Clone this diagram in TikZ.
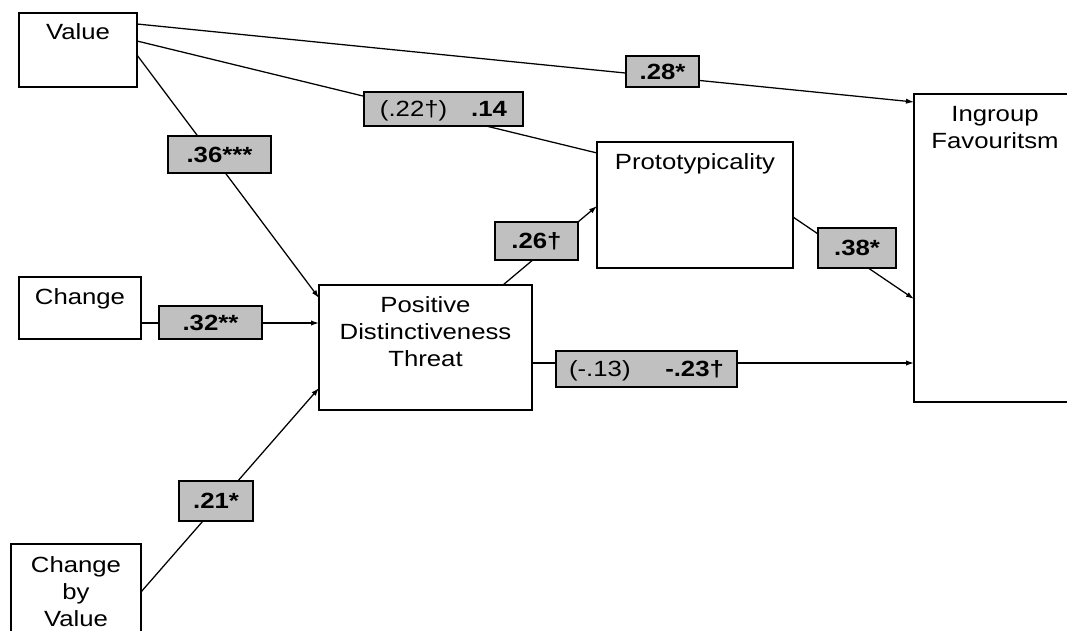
\documentclass[tikz,border=0pt]{standalone}
\usepackage{fontspec}
\setmainfont{Liberation Sans}[FakeStretch=1.17]
\usetikzlibrary{arrows.meta,calc}
\definecolor{coefgray}{RGB}{192,192,192}
% centred multi-line text whose baseline is that of its first line
\newcommand{\linesof}[1]{\begin{tabular}[t]{@{}c@{}}#1\end{tabular}}
\begin{document}
\begin{tikzpicture}[x=0.75pt,y=-0.75pt,
  w/.style={minimum width=#1*0.75pt},
  h/.style={minimum height=#1*0.75pt},
  txt/.style={font=\fontsize{16.5pt}{20.25pt}\selectfont, inner sep=0pt, anchor=base},
  box/.style={draw=black, line width=1pt, fill=white, anchor=north west,
    inner sep=0pt, outer sep=0pt},
  coef/.style={draw=black, line width=1pt, fill=coefgray, anchor=north west,
    inner sep=0pt, outer sep=0pt, text height=11.8pt, text depth=0pt,
    font=\fontsize{16.5pt}{20.25pt}\selectfont},
  link/.style={draw=black, line width=0.95pt},
  arr/.style={link, -{Latex[length=6pt,width=4pt]}}]

\useasboundingbox (0,0) rectangle (1067,631);
\fill[white] (0,0) rectangle (1067,631);
\clip (0,0) rectangle (1067,631);

% variables
\node[box, w=118, h=74] (value) at (19,13) {};
\node[txt] (valuet) at ($(value.north)+(0,27)$) {Value};

\node[box, w=122, h=62] (change) at (19,277) {};
\node[txt] (changet) at ($(change.north)+(0,27)$) {Change};

\node[box, w=130, h=110] (cbv) at (11,544) {};
\node[txt] (cbvt) at ($(cbv.north)+(0,28)$) {\linesof{Change\\by\\Value}};

\node[box, w=213, h=125] (pdt) at (319,285) {};
\node[txt] (pdtt) at ($(pdt.north)+(0,27)$) {\linesof{Positive\\Distinctiveness\\Threat}};

\node[box, w=196, h=126] (proto) at (597,142) {};
\node[txt] (protot) at ($(proto.north)+(0,28)$) {Prototypicality};

\node[box, w=170, h=308] (ingroup) at (914,94) {};
\node[txt] (ingroupt) at ($(ingroup.north west)+(81,28)$) {\linesof{Ingroup\\Favouritsm}};

% paths
\draw[arr]  ($(value.north east)+(0,11)$)  -- ($(ingroup.north west)+(0,8)$);
\draw[link] ($(value.north east)+(0,28)$)  -- ($(proto.north west)+(0,11)$);
\draw[arr]  ($(value.north east)+(0,42)$)  -- ($(pdt.north west)+(0,13)$);
\draw[arr]  ($(change.north east)+(0,46)$) -- ($(pdt.north west)+(0,38)$);
\draw[arr]  ($(cbv.north east)+(0,48)$)    -- ($(pdt.north west)+(0,103)$);
\draw[arr]  ($(pdt.north west)+(184,0)$)   -- ($(proto.north west)+(0,64)$);
\draw[arr]  ($(proto.north east)+(0,75)$)  -- ($(ingroup.north west)+(0,205)$);
\draw[arr]  ($(pdt.north east)+(0,78)$)    -- ($(ingroup.north west)+(0,269)$);

% path coefficients
\node[coef, w=73,  h=31] (c28) at (626,56)  {\textbf{.28*}};
\node[coef, w=159, h=34] (c14) at (364,92)  {(.22†)\hspace{18pt}\textbf{.14}};
\node[coef, w=103, h=37] (c36) at (168,136) {\textbf{.36***}};
\node[coef, w=83,  h=38] (c26) at (495,222) {\textbf{.26†}};
\node[coef, w=78,  h=40] (c38) at (818,228) {\textbf{.38*}};
\node[coef, w=103, h=33] (c32) at (159,306) {\textbf{.32**}};
\node[coef, w=181, h=36] (c13) at (556,351) {(-.13)\hspace{26pt}\textbf{-.23†}};
\node[coef, w=74,  h=40] (c21) at (179,481) {\textbf{.21*}};
\end{tikzpicture}
\end{document}
